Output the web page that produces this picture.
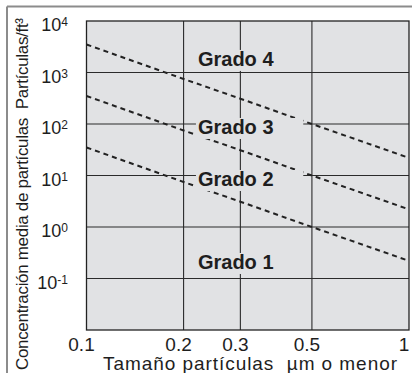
<!DOCTYPE html>
<html>
<head>
<meta charset="utf-8">
<script src="https://cdn.jsdelivr.net/npm/d3@7"></script>
<style>
  body { margin: 0; background: #fff; }
  svg { display: block; font-family: "Liberation Sans", Arial, sans-serif; }
</style>
</head>
<body>
<div id="chart"></div>
<script>
const width = 412;
const height = 373;
const margin = { top: 21, right: 3, bottom: 43, left: 86.5 };

// datos
const xTicks = [0.1, 0.2, 0.3, 0.5, 1];
const xTickLabels = ["0.1", "0.2", "0.3", "0.5", "1"];
const yTickExp = ["4", "3", "2", "1", "0", "-1"];
const sizes = [0.1, 0.2, 0.3, 0.5, 1];
const lineTop = [3500, 750, 310, 100, 22];
const lineMid = [350, 75, 31, 10, 2.2];
const lineLow = [35, 7.5, 3.1, 1, 0.22];
const gradeNames = ["Grado 4", "Grado 3", "Grado 2", "Grado 1"];
const gradeY = [1340, 64, 6.25, 0.153]; // posición de la línea base
const gradeX = 0.2216;

const svg = d3
  .select("#chart")
  .append("svg")
  .attr("width", width)
  .attr("height", height);

const x = d3
  .scaleLog()
  .domain([0.1, 1])
  .range([margin.left, width - margin.right]);

const y = d3
  .scaleLog()
  .domain([0.01, 10000])
  .range([height - margin.bottom, margin.top]);

// marco exterior
svg.append("line")
  .attr("x1", 7).attr("x2", width)
  .attr("y1", 6.5).attr("y2", 6.5)
  .attr("stroke", "#8c8c8c").attr("stroke-width", 2);
svg.append("line")
  .attr("x1", 7).attr("x2", 7)
  .attr("y1", 6.5).attr("y2", height)
  .attr("stroke", "#8c8c8c").attr("stroke-width", 2);

// fondo del gráfico
svg.append("rect")
  .attr("x", x(0.1))
  .attr("y", y(10000))
  .attr("width", x(1) - x(0.1))
  .attr("height", y(0.01) - y(10000))
  .attr("fill", "#e1e2e4");

// rejilla
const decades = d3.range(-1, 4).map((k) => Math.pow(10, k));
svg.append("g")
  .selectAll("line")
  .data(decades)
  .join("line")
  .attr("x1", x(0.1))
  .attr("x2", x(1))
  .attr("y1", (d) => y(d))
  .attr("y2", (d) => y(d))
  .attr("stroke", "#2b2b2b")
  .attr("stroke-width", 1.1);

svg.append("g")
  .selectAll("line")
  .data(xTicks.slice(1, -1))
  .join("line")
  .attr("x1", (d) => x(d))
  .attr("x2", (d) => x(d))
  .attr("y1", y(10000))
  .attr("y2", y(0.01))
  .attr("stroke", "#2b2b2b")
  .attr("stroke-width", 1.1);

// líneas discontinuas
const line = d3
  .line()
  .x((d) => x(d[0]))
  .y((d) => y(d[1]));

svg.append("g")
  .selectAll("path")
  .data([lineTop, lineMid, lineLow])
  .join("path")
  .attr("d", (vals) => line(sizes.map((s, i) => [s, vals[i]])))
  .attr("fill", "none")
  .attr("stroke", "#222")
  .attr("stroke-width", 2)
  .attr("stroke-dasharray", "5,4");

// etiquetas de grado con fondo
const grades = svg.append("g")
  .selectAll("g")
  .data(gradeNames)
  .join("g");

grades.append("rect")
  .attr("x", x(gradeX) - 2)
  .attr("y", (d, i) => y(gradeY[i]) - 16)
  .attr("width", x(0.47) - x(gradeX) + 2)
  .attr("height", 21)
  .attr("fill", "#e1e2e4");

grades.append("text")
  .attr("x", x(gradeX))
  .attr("y", (d, i) => y(gradeY[i]))
  .attr("font-size", 20)
  .attr("font-weight", "bold")
  .attr("fill", "#1e1e1e")
  .text((d) => d);

// borde del gráfico
svg.append("rect")
  .attr("x", x(0.1))
  .attr("y", y(10000))
  .attr("width", x(1) - x(0.1))
  .attr("height", y(0.01) - y(10000))
  .attr("fill", "none")
  .attr("stroke", "#222")
  .attr("stroke-width", 1.3);

// etiquetas del eje y
const yLabels = svg.append("g")
  .selectAll("text")
  .data(yTickExp)
  .join("text")
  .attr("x", 68)
  .attr("y", (d) => y(Math.pow(10, +d)) + 10)
  .attr("text-anchor", "end")
  .attr("font-size", 18)
  .attr("fill", "#1e1e1e");
yLabels.append("tspan").text("10");
yLabels.append("tspan")
  .attr("font-size", 12)
  .attr("dy", -5)
  .text((d) => d);

// etiquetas del eje x
svg.append("g")
  .selectAll("text")
  .data(xTicks)
  .join("text")
  .attr("x", (d) => x(d) - 5)
  .attr("y", height - 22)
  .attr("text-anchor", "middle")
  .attr("font-size", 19)
  .attr("fill", "#1e1e1e")
  .text((d, i) => xTickLabels[i]);

// títulos de ejes
svg.append("text")
  .attr("x", 103)
  .attr("y", 370)
  .attr("font-size", 19)
  .attr("fill", "#1e1e1e")
  .attr("textLength", 294)
  .attr("lengthAdjust", "spacing")
  .style("white-space", "pre")
  .text("Tamaño partículas  µm o menor");

svg.append("text")
  .attr("transform", "translate(28, 370) rotate(-90)")
  .attr("font-size", 17)
  .attr("fill", "#1e1e1e")
  .attr("textLength", 352)
  .attr("lengthAdjust", "spacing")
  .style("white-space", "pre")
  .text("Concentración media de partículas  Partículas/ft³");
</script>
</body>
</html>
